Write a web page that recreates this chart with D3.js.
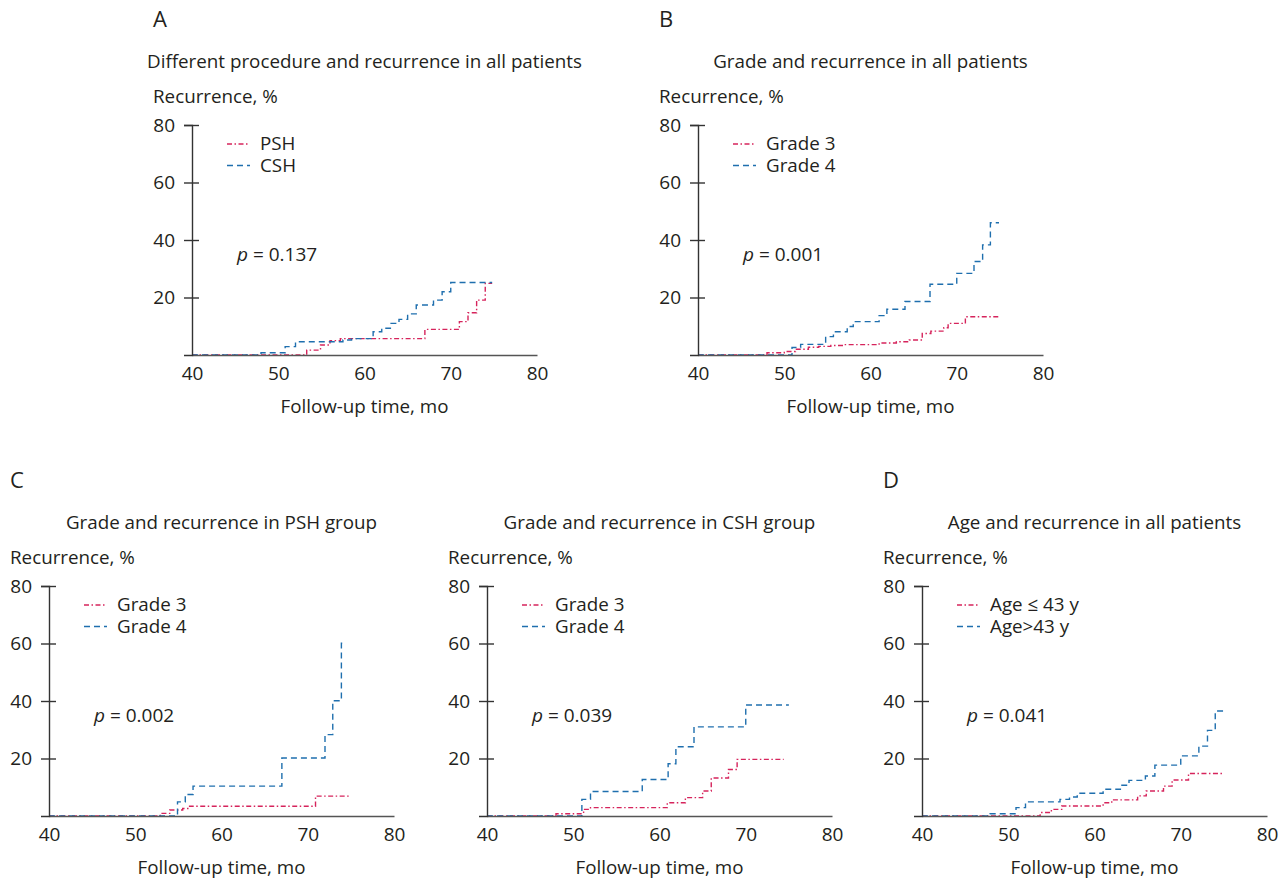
<!DOCTYPE html>
<html lang="en">
<head>
<meta charset="UTF-8">
<title>Recurrence curves</title>
<script src="https://cdn.jsdelivr.net/npm/d3@7"></script>
<style>
    body{ margin:0; background:#fff; }
    svg{ display:block; }
    text{ font-family: "Open Sans", Lato, sans-serif; fill:#231f20; }
</style>
</head>
<body>
<div id="root"></div>
<script>
    // tick values
    const xTicks = [40, 50, 60, 70, 80]
    const yTicks = [20, 40, 60, 80]

    // cumulative recurrence (%) by follow-up month, step curves; last point = end of follow-up
    const aPSH = [[40,0],[53.3,1.7],[54.9,3.5],[56,5],[57.2,5.7],[67,8.9],[71,11.6],[72,14.7],[73,19.1],[74,24.9],[74.8,24.9]]
    const aCSH = [[40,0],[48,0.8],[50.8,2.9],[52,4.6],[57.5,5.2],[58.5,5.7],[61,8.1],[62,9.3],[63,11],[64,12.4],[65,14.3],[66,17.4],[68,19.1],[69,22],[70,25.2],[74.8,25.2]]

    const bG3 = [[40,0],[48,0.8],[50,1.2],[51.3,2],[52.8,2.7],[54,3],[55.4,3.3],[57,3.6],[61,4.2],[63,4.6],[64.5,5.2],[66,7.5],[67,8.3],[68.5,9.5],[69,11],[71,13.3],[75,13.3]]
    const bG4 = [[40,0],[50.9,2.6],[51.9,3.7],[54.8,6.4],[55.7,8.1],[57.3,9.9],[58,11.6],[61,13.7],[61.9,15.9],[64,18.6],[66.9,24.6],[70,28.4],[72,32.5],[73,38.3],[73.9,46],[74.9,46]]

    const cPshG3 = [[40,0],[52.9,0.9],[54,2.1],[55.5,2.6],[56.3,3.4],[70.9,6.9],[74.9,6.9]]
    const cPshG4 = [[40,0],[54.9,4.9],[55.8,7.5],[56.7,10.4],[67,20.2],[72,28.3],[72.9,40.1],[73.9,60.1],[74.3,60.1]]

    const cCshG3 = [[40,0],[48,0.8],[51.2,2.3],[52,2.9],[60.9,4.6],[63,6.4],[65,8.7],[66,13.2],[68,16.2],[69,19.7],[74.4,19.7]]
    const cCshG4 = [[40,0],[51,5.8],[52,8.5],[58,12.7],[61,18.2],[61.9,24.1],[64,31],[70,38.6],[75,38.6]]

    const dYoung = [[40,0],[53.7,1.2],[55,2.3],[56.2,3.5],[61,4.6],[62,5.6],[65,7],[66,8.7],[68,10.4],[69,12.5],[70.9,14.8],[75,14.8]]
    const dOld = [[40,0],[47.9,0.8],[50.9,2.9],[52,4.9],[56,5.8],[57.1,6.6],[58,7.9],[61,9.3],[63,10.7],[64,12.4],[65.9,13.9],[67,17.7],[70,20.9],[72.1,24.3],[73.1,29.8],[74,36.5],[75,36.5]]

    const panels = [
        {letter:"A", title:"Different procedure and recurrence in all patients", p:"0.137", names:["PSH","CSH"], series:[aPSH,aCSH], x:192, y:125},
        {letter:"B", title:"Grade and recurrence in all patients", p:"0.001", names:["Grade 3","Grade 4"], series:[bG3,bG4], x:698, y:125},
        {letter:"C", title:"Grade and recurrence in PSH group", p:"0.002", names:["Grade 3","Grade 4"], series:[cPshG3,cPshG4], x:49, y:586},
        {letter:"", title:"Grade and recurrence in CSH group", p:"0.039", names:["Grade 3","Grade 4"], series:[cCshG3,cCshG4], x:487, y:586},
        {letter:"D", title:"Age and recurrence in all patients", p:"0.041", names:["Age \u2264 43 y","Age>43 y"], series:[dYoung,dOld], x:922, y:586}
    ]

    const width = 1288, height = 880, w = 345, h = 230
    const colors = ["#d6245c", "#1f6fae"]
    const dashes = ["5,2.5,1.5,2.5", "6,4"]
    const fs = "18.8px"

    const svg = d3.select("#root").append("svg").attr("width", width).attr("height", height)

    panels.forEach(function(pn){
        let g = svg.append("g").attr("transform", "translate(" + pn.x + "," + pn.y + ")")
        let x = d3.scaleLinear().domain([40, 80]).range([0, w])
        let y = d3.scaleLinear().domain([0, 80]).range([h, 0])

        // letter, title, axis title
        if(pn.letter) g.append("text").attr("x", -39).attr("y", -98).style("font-size", "22px").text(pn.letter)
        g.append("text").attr("x", w / 2).attr("y", -57).attr("text-anchor", "middle").style("font-size", fs).text(pn.title)
        g.append("text").attr("x", -39).attr("y", -22).style("font-size", fs).text("Recurrence, %")
        g.append("text").attr("x", w / 2).attr("y", h + 58).attr("text-anchor", "middle").style("font-size", fs).text("Follow-up time, mo")

        // curves
        let line = d3.line().x(d => x(d[0])).y(d => y(d[1])).curve(d3.curveStepAfter)
        pn.series.forEach(function(s, i){
            g.append("path").datum(s).attr("d", line).attr("fill", "none")
                .attr("stroke", colors[i]).attr("stroke-width", 1.4).attr("stroke-dasharray", dashes[i])
        })

        // axes
        let ax = d3.axisBottom(x).tickValues(xTicks).tickSize(0).tickPadding(12)
        let gx = g.append("g").attr("transform", "translate(0," + h + ")").call(ax)
        gx.select(".domain").attr("stroke", "#555").attr("stroke-width", 1.6)
        gx.selectAll("text").style("font-size", "19px").attr("fill", "#231f20")

        let ay = d3.axisLeft(y).tickValues(yTicks).tickSize(8).tickPadding(9)
        let gy = g.append("g").call(ay)
        gy.select(".domain").attr("stroke", "#333").attr("stroke-width", 1.4)
        gy.selectAll(".tick line").attr("stroke", "#333").attr("stroke-width", 1.4).attr("x2", 7).attr("x1", -8)
        gy.selectAll("text").style("font-size", "19px").attr("fill", "#231f20")

        // legend
        pn.names.forEach(function(n, i){
            g.append("line").attr("x1", 35).attr("x2", 58).attr("y1", 19 + i * 21.5).attr("y2", 19 + i * 21.5)
                .attr("stroke", colors[i]).attr("stroke-width", 1.3).attr("stroke-dasharray", dashes[i])
            g.append("text").attr("x", 68).attr("y", 25 + i * 21.5).style("font-size", fs).text(n)
        })

        // p value
        let pt = g.append("text").attr("x", 45).attr("y", 136).style("font-size", "19px")
        pt.append("tspan").style("font-style", "italic").text("p")
        pt.append("tspan").text(" = " + pn.p)
    })
</script>
</body>
</html>
